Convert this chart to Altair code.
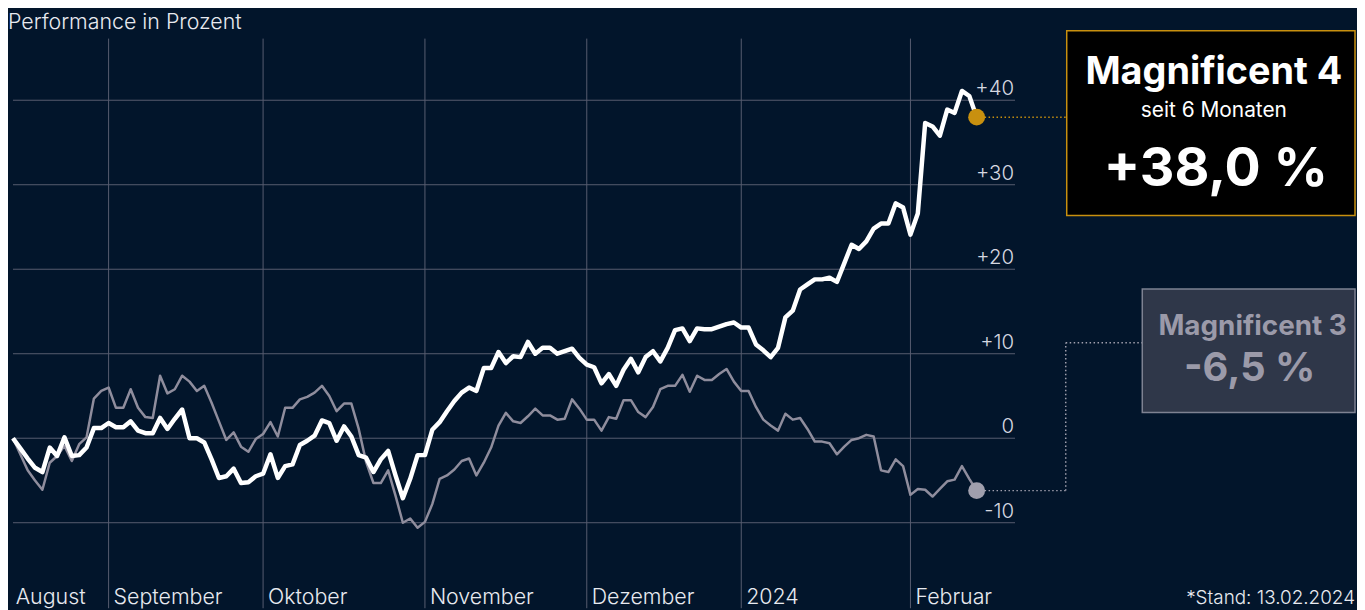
import altair as alt
import pandas as pd

# ---------------- data ----------------
dates = pd.bdate_range("2023-08-15", "2024-02-14")  # weekdays, 132 points

mag4 = [0.0, -1.2, -2.4, -3.5, -4.0, -1.1, -2.1, 0.1, -2.1, -2.0,
        -1.1, 1.2, 1.2, 1.8, 1.3, 1.3, 2.0, 0.9, 0.6, 0.6,
        2.4, 1.1, 2.3, 3.4, 0.0, 0.0, -0.5, -2.5, -4.7, -4.5,
        -3.6, -5.3, -5.2, -4.5, -4.2, -1.9, -4.7, -3.3, -3.1, -0.8,
        -0.3, 0.3, 2.1, 1.8, -0.3, 1.4, 0.2, -2.0, -2.3, -4.0,
        -2.5, -1.5, -4.4, -7.1, -4.8, -2.0, -2.0, 1.0, 1.9, 3.2,
        4.4, 5.4, 6.0, 5.6, 8.3, 8.3, 10.2, 8.9, 9.7, 9.6,
        11.4, 10.0, 10.7, 10.7, 10.0, 10.3, 10.6, 9.5, 8.7, 8.4,
        6.5, 7.6, 6.2, 8.1, 9.4, 7.8, 9.6, 10.3, 9.1, 10.7,
        12.8, 13.0, 11.5, 13.0, 12.9, 12.9, 13.2, 13.5, 13.7, 13.1,
        13.1, 11.1, 10.4, 9.6, 10.7, 14.3, 15.1, 17.6, 18.2, 18.8,
        18.8, 19.0, 18.5, 20.7, 22.9, 22.4, 23.3, 24.8, 25.4, 25.4,
        27.8, 27.3, 24.1, 26.6, 37.3, 36.9, 35.8, 38.9, 38.5, 41.1,
        40.5, 38.0]

mag3 = [0.0, -1.9, -3.8, -5.0, -6.1, -2.9, -2.1, -0.9, -2.7, -0.7,
        0.1, 4.7, 5.6, 6.0, 3.6, 3.6, 5.8, 3.6, 2.5, 2.4,
        7.4, 5.3, 5.8, 7.4, 6.7, 5.6, 6.2, 4.2, 2.0, -0.2,
        0.7, -1.0, -1.6, -0.1, 0.5, 1.9, 0.2, 3.6, 3.6, 4.6,
        4.9, 5.4, 6.2, 5.0, 3.2, 4.1, 4.1, 1.1, -2.8, -5.3,
        -5.3, -3.8, -6.8, -10.0, -9.5, -10.6, -9.9, -7.8, -4.8, -4.4,
        -3.7, -2.7, -2.4, -4.4, -2.9, -1.1, 1.5, 3.0, 2.0, 1.8,
        2.6, 3.5, 2.7, 2.7, 2.2, 2.3, 4.6, 3.5, 2.2, 2.2,
        0.9, 2.5, 2.3, 4.5, 4.5, 3.1, 2.5, 3.7, 5.8, 6.2,
        6.2, 7.5, 5.5, 7.4, 6.9, 6.9, 7.6, 8.2, 6.7, 5.6,
        5.6, 3.7, 2.2, 1.5, 0.9, 2.9, 2.2, 2.4, 1.1, -0.4,
        -0.4, -0.6, -1.9, -1.0, -0.2, 0.0, 0.4, 0.2, -3.8, -4.0,
        -2.5, -3.3, -6.7, -6.0, -6.1, -6.9, -6.0, -5.1, -4.9, -3.3,
        -4.8, -6.2]

y_ticks = [-10, 0, 10, 20, 30, 40]
y_tick_labels = ["-10", "0", "+10", "+20", "+30", "+40"]
month_names = ["August", "September", "Oktober", "November", "Dezember", "2024", "Februar"]

m4_title, m4_sub, m4_value = "Magnificent 4", "seit 6 Monaten", "+38,0 %"
m3_title, m3_value = "Magnificent 3", "-6,5 %"
title_text = "Performance in Prozent"
stand_text = "*Stand: 13.02.2024"

# ---------------- tables ----------------
n = len(dates)
idx = list(range(n))
df4 = pd.DataFrame({"i": idx, "v": mag4})
df3 = pd.DataFrame({"i": idx, "v": mag3})
month_pos = [i for i in range(1, n) if dates[i].month != dates[i - 1].month]
grid_df = pd.DataFrame({"i": month_pos})
mlab_df = pd.DataFrame({"i": [-0.3] + month_pos, "label": month_names})
ytick_df = pd.DataFrame({"v": y_ticks, "label": y_tick_labels})
end4 = df4.iloc[[-1]]
end3 = df3.iloc[[-1]]
one = pd.DataFrame({"a": [0]})

# ---------------- layout ----------------
W, H = 1357, 602
BG = "#02152b"
GRID = "#585d70"
FONT = "Inter"
GOLD = "#c8900f"
GREY = "#a09fad"

# px = 5 + 7.4*i ; py = 431 - 8.5*v
xscale = alt.Scale(domain=[-5 / 7.4, (W - 5) / 7.4], nice=False, zero=False)
yscale = alt.Scale(domain=[(431 - H) / 8.5, 431 / 8.5], nice=False, zero=False)
X = lambda f: alt.X(f, type="quantitative", scale=xscale, axis=None)
Y = lambda f: alt.Y(f, type="quantitative", scale=yscale, axis=None)

hgrid = alt.Chart(ytick_df).mark_rule(color=GRID, strokeWidth=1).encode(
    y=Y("v"), x=alt.value(5), x2=alt.value(1013))
vgrid = alt.Chart(grid_df).mark_rule(color=GRID, strokeWidth=1).encode(
    x=X("i"), y=alt.value(29), y2=alt.value(H))
ylab = alt.Chart(ytick_df).mark_text(align="right", baseline="alphabetic", dy=-5,
                                     fontSize=20.5, font=FONT, fontWeight=300,
                                     color="#d6d8e0").encode(
    y=Y("v"), x=alt.value(1012), text="label:N")
mlab = alt.Chart(mlab_df).mark_text(align="left", baseline="alphabetic", dx=5,
                                    fontSize=21.5, font=FONT, fontWeight=300,
                                    color="#e8eaf0").encode(
    x=X("i"), y=alt.value(598), text="label:N")

line3 = alt.Chart(df3).mark_line(color="#8f8d9d", strokeWidth=2.5,
                                 strokeJoin="round").encode(x=X("i"), y=Y("v"))
line4 = alt.Chart(df4).mark_line(color="#ffffff", strokeWidth=4.5,
                                 strokeJoin="round").encode(x=X("i"), y=Y("v"))

dash = [1.5, 2.5]
conn4 = alt.Chart(end4).mark_rule(color=GOLD, strokeWidth=1.5, strokeDash=dash).encode(
    x=X("i"), x2=alt.value(1065), y=Y("v"))
conn3a = alt.Chart(end3).mark_rule(color=GREY, strokeWidth=1.5, strokeDash=dash).encode(
    x=X("i"), x2=alt.value(1064), y=Y("v"))
conn3b = alt.Chart(end3).mark_rule(color=GREY, strokeWidth=1.5, strokeDash=dash).encode(
    x=alt.value(1064), y=Y("v"), y2=alt.value(335))
conn3c = alt.Chart(one).mark_rule(color=GREY, strokeWidth=1.5, strokeDash=dash).encode(
    x=alt.value(1064), x2=alt.value(1141), y=alt.value(335))

dot4 = alt.Chart(end4).mark_circle(color=GOLD, opacity=1, size=290).encode(x=X("i"), y=Y("v"))
dot3 = alt.Chart(end3).mark_circle(color=GREY, opacity=1, size=290).encode(x=X("i"), y=Y("v"))

box4 = alt.Chart(one).mark_rect(fill="#000000", stroke=GOLD, strokeWidth=1.5).encode(
    x=alt.value(1065), x2=alt.value(1355), y=alt.value(21), y2=alt.value(207))
box3 = alt.Chart(one).mark_rect(fill="#2f3749", stroke="#7e8292", strokeWidth=1.5).encode(
    x=alt.value(1141), x2=alt.value(1355), y=alt.value(281), y2=alt.value(405))


def txt(s, x, y, size, weight, color, align="center"):
    return alt.Chart(one).mark_text(text=s, align=align, baseline="alphabetic",
                                    fontSize=size, fontWeight=weight, font=FONT,
                                    color=color).encode(x=alt.value(x), y=alt.value(y))


t4a = txt(m4_title, 1213, 75, 38, 700, "#ffffff")
t4b = txt(m4_sub, 1213, 107.5, 21, 400, "#ffffff")
t4c = txt(m4_value, 1215, 177, 54, 700, "#ffffff")
t3a = txt(m3_title, 1252, 327, 28, 700, "#9b9aa9")
t3b = txt(m3_value, 1249, 373.5, 40, 700, "#9b9aa9")
ttl = txt(title_text, 0, 19, 21.5, 300, "#e8eaf0", align="left")
stand = txt(stand_text, 1355, 598, 19, 300, "#e8eaf0", align="right")

chart = alt.layer(
    hgrid, vgrid, ylab, mlab, line3, line4, conn4, conn3a, conn3b, conn3c,
    dot4, dot3, box4, box3, t4a, t4b, t4c, t3a, t3b, ttl, stand
).properties(
    width=W, height=H, padding=0,
    autosize=alt.AutoSizeParams(type="none"),
    background=BG,
).configure_view(stroke=None)

chart.save("out.html", embed_options={"renderer": "svg", "actions": False})
